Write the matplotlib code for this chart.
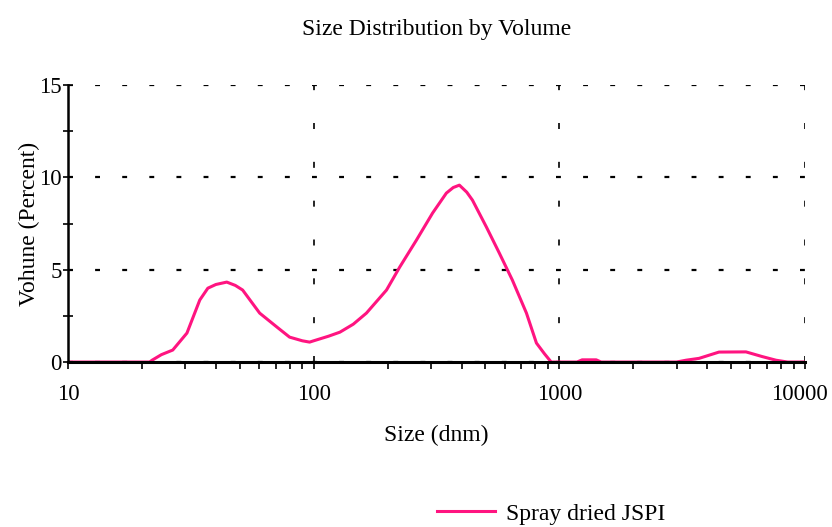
import matplotlib
matplotlib.use("Agg")
import matplotlib.pyplot as plt
import matplotlib.transforms as mtransforms
from matplotlib.ticker import FixedLocator, NullFormatter, MultipleLocator

plt.rcParams['font.family'] = ['Liberation Serif', 'DejaVu Serif']

# size (d.nm) vs volume percent
size = [10, 12, 15, 18, 21.5, 22, 24, 26.7, 30.5, 34.4, 37.1, 40, 44.3, 48, 51.4,
        60.3, 70.8, 79.8, 90, 96.3, 100, 115, 128, 145, 164, 198, 224, 262, 305,
        347, 370, 392, 420, 443, 505, 570, 644, 735, 807, 870, 927,
        1000, 1180, 1239, 1413, 1480, 2000, 3000, 3282, 3707, 4467, 5754,
        6683, 7621, 8500, 10000]
volume = [0, 0, 0, 0, 0, 0.1, 0.4, 0.65, 1.57, 3.36, 4.0, 4.2, 4.33, 4.15, 3.9,
          2.65, 1.9, 1.35, 1.15, 1.08, 1.15, 1.4, 1.62, 2.05, 2.65, 3.9, 5.14, 6.6, 8.07,
          9.15, 9.45, 9.58, 9.2, 8.77, 7.31, 5.9, 4.44, 2.65, 1.03, 0.45, 0,
          0, 0, 0.12, 0.12, 0, 0, 0, 0.1, 0.2, 0.54, 0.55,
          0.3, 0.1, 0, 0]

series_name = "Spray dried JSPI"
x_ticks = [10, 100, 1000, 10000]
x_labels = ["10", "100", "1000", "10000"]
y_ticks = [0, 5, 10, 15]

fig = plt.figure(figsize=(8.32, 5.27), dpi=100)
ax = fig.add_axes([0.0817, 0.313, 0.8858, 0.5256])

line, = ax.plot(size, volume, color="#ff1480", lw=2.2, label=series_name)

ax.set_xscale("log")
ax.set_xlim(10, 10000)
ax.set_ylim(0, 15)

ax.xaxis.set_major_locator(FixedLocator(x_ticks))
ax.set_xticklabels(x_labels)
ax.xaxis.set_minor_formatter(NullFormatter())
ax.yaxis.set_major_locator(FixedLocator(y_ticks))
ax.yaxis.set_minor_locator(MultipleLocator(2.5))

ax.tick_params(axis="both", which="major", labelsize=16.5, color="black")
ax.tick_params(axis="x", which="both", direction="out", length=5, width=1.2, pad=11)
ax.tick_params(axis="y", which="both", direction="inout", length=7, width=1.2, pad=1)

# last label sits a bit left of its tick so it stays inside the figure
last = ax.get_xticklabels()[-1]
last.set_transform(last.get_transform() + mtransforms.ScaledTranslation(-6 / 100, 0, fig.dpi_scale_trans))

for side in ["top", "right"]:
    ax.spines[side].set_visible(False)
ax.spines["left"].set_linewidth(1.8)
ax.spines["bottom"].set_linewidth(2.2)

ax.yaxis.grid(True, which="major", color="black", lw=1.6, ls=(0, (2.2, 10)))
ax.xaxis.grid(True, which="major", color="black", lw=1.2, ls=(0, (3.6, 19.7)))
ax.set_axisbelow(True)

ax.set_title("Size Distribution by Volume", fontsize=17, pad=36)
ax.set_xlabel("Size (dnm)", fontsize=17, labelpad=14)
ax.set_ylabel("Vohune (Percent)", fontsize=17, labelpad=-1)

fig.legend(handles=[line], loc="center left", bbox_to_anchor=(0.500, 0.025),
           frameon=False, fontsize=17, handlelength=2.45, handletextpad=0.45)

fig.savefig("out.png", dpi=100)
